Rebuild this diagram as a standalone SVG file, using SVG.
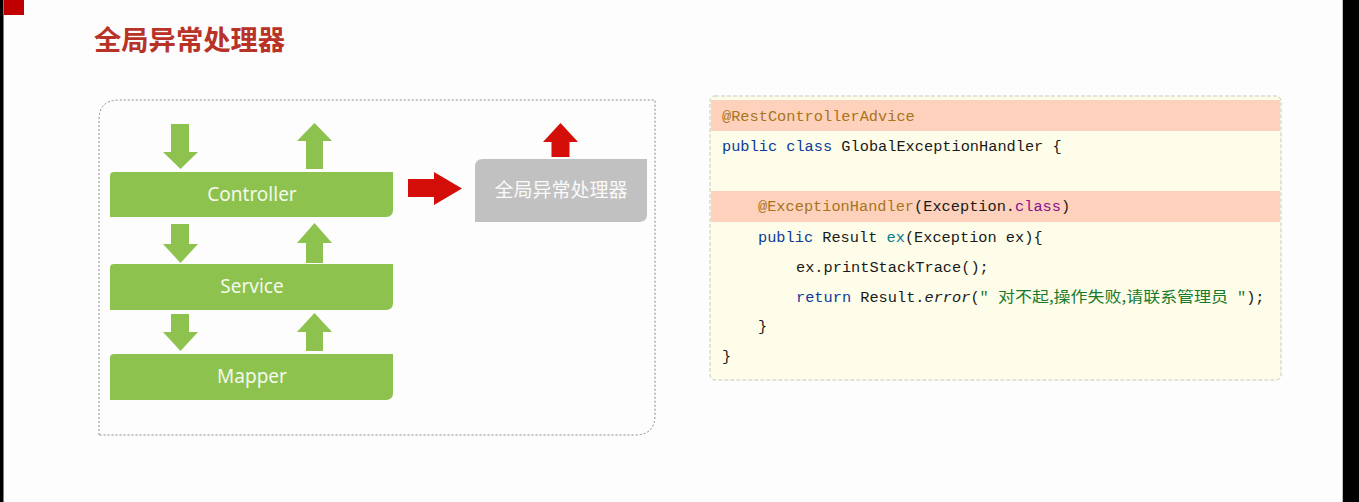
<svg xmlns="http://www.w3.org/2000/svg" width="1359" height="502" viewBox="0 0 1359 502">
<style>
.bar{fill:#8dc24f}
.garrow{fill:#8dc24f}
.rarrow{fill:#d40f0a}
.bartxt{font-family:"Noto Sans","Noto Sans CJK SC",sans-serif;font-size:19px;fill:#f4f9ec;text-anchor:middle}
.code{font-family:"Liberation Mono","DejaVu Sans Mono","Noto Sans CJK SC",monospace;font-size:15.3px;fill:#1a1a1a}
.kw{fill:#0b3a9c}
.ann{fill:#a8741c}
.pur{fill:#871094}
.fn{fill:#0f7c8c}
.str{fill:#187a2a;font-family:"Noto Sans CJK SC",sans-serif}
</style>
<rect x="0" y="0" width="1359" height="502" fill="#fdfdfd"/>
<rect x="0" y="0" width="3.5" height="502" fill="#000"/>
<rect x="1343" y="0" width="16" height="502" fill="#000"/>
<line x1="1342.5" y1="0" x2="1342.5" y2="502" stroke="#bdbdbd" stroke-width="1"/>
<rect x="4" y="0" width="20" height="15" fill="#c00000"/>
<text x="94" y="49.5" font-family="'Noto Sans CJK SC',sans-serif" font-size="27.3" font-weight="bold" fill="#b83228">全局异常处理器</text>

<path d="M99,435 V120 Q99,100 119,100 H655 V415 Q655,435 635,435 Z" fill="none" stroke="#8a8a8a" stroke-width="1" stroke-dasharray="2,2"/>

<g id="connectors">
<polygon class="garrow" points="171,124 189,124 189,152 198,152 180.5,169 163,152 171,152"/>
<polygon class="garrow" points="314.5,123 332,141 323,141 323,169 306,169 306,141 297,141"/>
<polygon class="garrow" points="171,224 189,224 189,244 198,244 180.5,263 163,244 171,244"/>
<polygon class="garrow" points="314.5,223 332,243 323,243 323,263 306,263 306,243 297,243"/>
<polygon class="garrow" points="171,314 189,314 189,332 198,332 180.5,351 163,332 171,332"/>
<polygon class="garrow" points="314.5,313 332,332 323,332 323,351 306,351 306,332 297,332"/>
<polygon class="rarrow" points="408,179 434,179 434,172 462,188.5 434,205 434,197 408,197"/>
<polygon class="rarrow" points="560.5,123 578,142 569.5,142 569.5,157 551.5,157 551.5,142 543,142"/>
</g>

<g id="controller">
<path class="bar" d="M110,176 Q110,172 114,172 H393 V210 Q393,217 386,217 H110 Z"/>
<text class="bartxt" x="252" y="200.5">Controller</text>
</g>
<g id="service">
<path class="bar" d="M110,268 Q110,264 114,264 H393 V303 Q393,310 386,310 H110 Z"/>
<text class="bartxt" x="252" y="293">Service</text>
</g>
<g id="mapper">
<path class="bar" d="M110,358 Q110,354 114,354 H393 V393 Q393,400 386,400 H110 Z"/>
<text class="bartxt" x="252" y="383">Mapper</text>
</g>
<g id="handler">
<path d="M475,167 Q475,159 483,159 H647 V214 Q647,222 639,222 H475 Z" fill="#c1c1c1"/>
<text x="561" y="197" font-family="'Noto Sans CJK SC',sans-serif" font-size="19" fill="#fafafa" text-anchor="middle">全局异常处理器</text>
</g>

<g id="code">
<rect x="710" y="96" width="571" height="284" rx="5" fill="#fefde9" stroke="#c9c9b4" stroke-width="1" stroke-dasharray="4,2"/>
<rect x="711" y="100" width="569" height="31" fill="#fdd1bb"/>
<rect x="711" y="191" width="569" height="31" fill="#fdd1bb"/>
<text class="code" x="722" y="121"><tspan class="ann">@RestControllerAdvice</tspan></text>
<text class="code" x="722" y="151"><tspan class="kw">public</tspan> <tspan class="kw">class</tspan> GlobalExceptionHandler {</text>
<text class="code" x="758" y="211"><tspan class="ann">@ExceptionHandler</tspan>(Exception.<tspan class="pur">class</tspan>)</text>
<text class="code" x="758" y="242"><tspan class="kw">public</tspan> Result <tspan class="fn">ex</tspan>(Exception ex){</text>
<text class="code" x="796" y="272">ex.printStackTrace();</text>
<text class="code" x="796" y="302"><tspan class="kw">return</tspan> Result.<tspan font-style="italic">error</tspan>(<tspan fill="#187a2a">"</tspan></text>
<text class="code str" x="998" y="302" textLength="230" lengthAdjust="spacingAndGlyphs">对不起,操作失败,请联系管理员</text>
<text class="code" x="1237" y="302"><tspan fill="#187a2a">"</tspan>);</text>
<text class="code" x="758" y="331">}</text>
<text class="code" x="722" y="361">}</text>
</g>
</svg>
